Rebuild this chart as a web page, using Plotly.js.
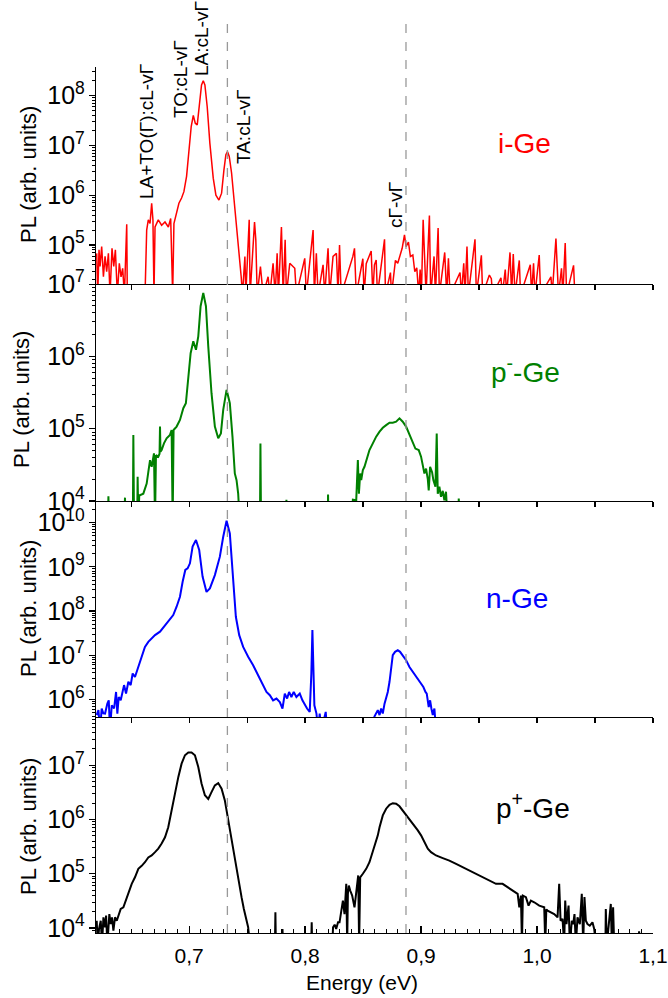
<!DOCTYPE html>
<html>
<head>
<meta charset="utf-8">
<script src="https://cdn.plot.ly/plotly-3.0.1.min.js"></script>
<style>html,body{margin:0;padding:0;background:#fff;}#chart{width:668px;height:998px;}</style>
</head>
<body>
<div id="chart"></div>
<script>
// ---------- data (energy in eV, PL in arb. units) ----------
const energyI = [0.6203,0.6212,0.6223,0.6232,0.6246,0.6261,0.6275,0.6289,0.6304,0.6318,0.6335,0.6350,0.6364,0.6381,0.6398,0.6413,0.6427,0.6442,0.6462,0.6467,0.6620,0.6634,0.6648,0.6663,0.6677,0.6688,0.6697,0.6706,0.6734,0.6763,0.6792,0.6821,0.6841,0.6858,0.6869,0.6892,0.6912,0.6935,0.6955,0.6978,0.6998,0.7018,0.7036,0.7053,0.7070,0.7093,0.7107,0.7122,0.7136,0.7156,0.7179,0.7208,0.7231,0.7257,0.7280,0.7300,0.7317,0.7331,0.7346,0.7366,0.7386,0.7409,0.7432,0.7449,0.7460,0.7481,0.7489,0.7518,0.7526,0.7564,0.7575,0.7587,0.7615,0.7638,0.7681,0.7696,0.7724,0.7742,0.7759,0.7770,0.7796,0.7811,0.7828,0.7839,0.7868,0.7911,0.7925,0.7997,0.8011,0.8069,0.8080,0.8097,0.8112,0.8155,0.8169,0.8198,0.8212,0.8241,0.8270,0.8284,0.8297,0.8311,0.8412,0.8426,0.8441,0.8498,0.8509,0.8527,0.8570,0.8584,0.8598,0.8613,0.8624,0.8685,0.8693,0.8736,0.8745,0.8779,0.8799,0.8814,0.8837,0.8857,0.8871,0.8891,0.8908,0.8929,0.8946,0.8963,0.8980,0.8992,0.9003,0.9018,0.9029,0.9043,0.9072,0.9083,0.9112,0.9124,0.9147,0.9158,0.9204,0.9221,0.9236,0.9250,0.9336,0.9348,0.9368,0.9379,0.9396,0.9408,0.9465,0.9477,0.9520,0.9531,0.9589,0.9606,0.9617,0.9689,0.9701,0.9726,0.9738,0.9767,0.9781,0.9795,0.9810,0.9847,0.9858,0.9942,0.9953,0.9970,0.9982,1.0019,1.0031,1.0120,1.0131,1.0163,1.0174,1.0185,1.0211,1.0223,1.0243,1.0255,1.0315,1.0326];
const plI = [6.8e4,1e4,8.0e4,3.7e4,9.3e4,2.3e4,5.9e4,2.9e4,6.8e4,1e4,8.6e4,3.7e4,8.0e4,1e4,4.3e4,2.3e4,3.4e4,1e4,2.6e5,1e4,1e4,2.0e5,3.2e5,2.7e5,6.9e5,3.2e5,1e4,2.3e5,3.2e5,2.5e5,2.9e5,2.3e5,3.4e5,1e4,2.7e5,4.3e5,6.9e5,8.8e5,1.18e6,2.4e6,7.0e6,2.4e7,4.0e7,2.8e7,2.6e7,8.2e7,1.64e8,2.0e8,1.64e8,6.0e7,1.1e7,2.2e6,1.0e6,8.0e5,1.1e6,3.2e6,6.5e6,7.5e6,6.0e6,2.8e6,9.4e5,2.3e5,5.9e4,2.3e4,1e4,5.9e4,1e4,3.2e5,1e4,2.9e5,1.27e5,1e4,3.7e4,1e4,2.3e4,1e4,4.3e4,1e4,6.8e4,1e4,2.3e5,1e4,1.27e5,1e4,4.3e4,3.4e4,1e4,5.4e4,1e4,2.0e5,1e4,6.8e4,1e4,4.0e4,1e4,8.6e4,1e4,5.9e4,6.8e4,1e4,1.0e5,1e4,5.9e4,8.6e4,1e4,5.3e4,1e4,4.2e4,7.6e4,1e4,4.0e4,5.0e4,1e4,1.3e5,1e4,2.8e4,1e4,4.9e4,4.3e4,5.9e4,8.6e4,1.6e5,9.3e4,1.15e5,5.9e4,6.3e4,2.9e4,3.5e4,1e4,3.2e4,1e4,3.2e5,5.4e4,1e4,3.9e5,1e4,5.9e4,1e4,2.2e5,1e4,7.1e4,1e4,5.4e4,1e4,2.8e4,1e4,4.3e4,1e4,9.3e4,1e4,1.3e5,1e4,6.2e4,1e4,2.5e4,2.1e4,1e4,2.2e4,1e4,3.2e4,1e4,7.1e4,1e4,6.6e4,1e4,4.9e4,1e4,4.0e4,1e4,4.3e4,1e4,6.3e4,1e4,2.3e4,1e4,1.35e5,3.7e4,1e4,3.4e4,1e4,1.1e5,1e4,3.9e4,1e4];

const energyPm = [0.6203,0.6300,0.6304,0.6310,0.6440,0.6447,0.6452,0.6515,0.6519,0.6525,0.6552,0.6556,0.6562,0.6570,0.6576,0.6605,0.6634,0.6648,0.6663,0.6677,0.6697,0.6706,0.6714,0.6734,0.6745,0.6749,0.6753,0.6763,0.6783,0.6806,0.6835,0.6849,0.6858,0.6866,0.6892,0.6921,0.6950,0.6972,0.6993,0.7013,0.7036,0.7059,0.7079,0.7099,0.7122,0.7145,0.7165,0.7193,0.7222,0.7251,0.7274,0.7294,0.7323,0.7351,0.7374,0.7394,0.7409,0.7423,0.7437,0.7611,0.7615,0.7620,0.7835,0.7839,0.7843,0.8195,0.8198,0.8202,0.8400,0.8412,0.8441,0.8455,0.8464,0.8475,0.8484,0.8498,0.8512,0.8527,0.8555,0.8584,0.8613,0.8642,0.8670,0.8699,0.8728,0.8756,0.8785,0.8814,0.8842,0.8871,0.8900,0.8929,0.8951,0.8980,0.9000,0.9015,0.9029,0.9043,0.9058,0.9066,0.9078,0.9095,0.9106,0.9124,0.9135,0.9144,0.9158,0.9172,0.9187,0.9201,0.9215,0.9230,0.9320,0.9325,0.9336];
const plPm = [5e3,5e3,1.16e4,5e3,5e3,1.11e4,5e3,5e3,8.2e4,5e3,5e3,2.16e4,5e3,1.2e4,1.2e4,1.26e4,1.74e4,2.5e4,3.67e4,2.97e4,4.55e4,5e3,4.3e4,4.1e4,4.5e4,1.07e5,4.8e4,5.06e4,6.26e4,7.35e4,8.2e4,9.6e4,5e3,9.6e4,1.07e5,1.32e5,1.92e5,2.25e5,4.75e5,1.11e6,1.62e6,1.24e6,1.9e6,4.96e6,7.6e6,4.96e6,1.38e6,3.1e5,1.07e5,7.35e4,8.6e4,1.82e5,3.45e5,2.25e5,7.7e4,2.4e4,1.94e4,1.26e4,5e3,5e3,6.26e4,5e3,5e3,1.04e4,5e3,5e3,1.23e4,5e3,5e3,1.04e4,1.02e4,3.67e4,1.26e4,2.4e4,1.94e4,2.67e4,2.97e4,3.67e4,5.06e4,6.26e4,7.76e4,9.1e4,1.03e5,1.12e5,1.21e5,1.21e5,1.25e5,1.39e5,1.25e5,1.07e5,8.2e4,6.26e4,5.3e4,5.06e4,4.1e4,3.1e4,2.4e4,2.8e4,2.0e4,1.4e4,2.97e4,2.5e4,1.94e4,1.57e4,8.6e4,1.26e4,1.57e4,1.14e4,1.38e4,1.02e4,1.34e4,5e3,5e3,1.08e4,5e3];

const energyN = [0.6203,0.6218,0.6232,0.6246,0.6260,0.6275,0.6295,0.6307,0.6318,0.6333,0.6353,0.6370,0.6381,0.6393,0.6410,0.6427,0.6439,0.6456,0.6476,0.6496,0.6513,0.6533,0.6562,0.6591,0.6619,0.6648,0.6677,0.6706,0.6749,0.6792,0.6835,0.6863,0.6892,0.6921,0.6944,0.6967,0.6987,0.7007,0.7030,0.7059,0.7087,0.7116,0.7150,0.7179,0.7222,0.7265,0.7294,0.7323,0.7351,0.7380,0.7403,0.7432,0.7466,0.7509,0.7552,0.7595,0.7638,0.7667,0.7696,0.7724,0.7753,0.7782,0.7805,0.7825,0.7845,0.7862,0.7882,0.7902,0.7925,0.7954,0.7977,0.7997,0.8017,0.8040,0.8054,0.8063,0.8072,0.8080,0.8098,0.8112,0.8126,0.8141,0.8178,0.8189,0.8590,0.8598,0.8627,0.8642,0.8656,0.8670,0.8685,0.8699,0.8713,0.8728,0.8742,0.8756,0.8776,0.8799,0.8819,0.8842,0.8871,0.8900,0.8929,0.8957,0.8980,0.9000,0.9020,0.9038,0.9049,0.9066,0.9078,0.9089,0.9101,0.9115,0.9129];
const plN = [4.4e5,5.7e5,2e5,6.2e5,4.8e5,4.76e5,8.0e5,9.5e5,2e5,7.35e5,6.2e5,1.47e6,4.76e5,1.13e6,9.5e5,1.6e6,2.1e6,1.35e6,2.5e6,2.1e6,3.84e6,3.2e6,5.4e6,9.2e6,1.54e7,2.0e7,2.4e7,2.84e7,3.4e7,4.8e7,6.8e7,8.1e7,1.25e8,2.1e8,4.6e8,8.5e8,9.2e8,1.2e9,2.87e9,4.06e9,2.4e9,6.0e8,2.7e8,3.25e8,6.5e8,1.7e9,4.8e9,1.1e10,5.7e9,4.2e8,7.4e7,2.84e7,1.54e7,9.2e6,5.9e6,3.5e6,2.1e6,1.47e6,1.24e6,9.5e5,1.04e6,8.7e5,6.2e5,1.35e6,1.04e6,1.47e6,1.13e6,1.47e6,1.13e6,1.35e6,9.5e5,7.35e5,6.2e5,5.2e5,3.84e6,3.7e7,3.5e6,7.35e5,4.76e5,2e5,4.76e5,2e5,5.2e5,2e5,2e5,4.1e5,5.7e5,4.4e5,6.2e5,4.76e5,8.0e5,1.04e6,1.47e6,2.5e6,5.4e6,1.0e7,1.19e7,1.3e7,1.19e7,1.0e7,7.7e6,5.4e6,4.2e6,3.2e6,2.7e6,2.28e6,1.9e6,1.47e6,1.35e6,6.7e5,9.5e5,6.2e5,4.4e5,6.2e5,2e5];

const energyPp = [0.6203,0.6212,0.6223,0.6238,0.6249,0.6261,0.6275,0.6284,0.6295,0.6312,0.6324,0.6335,0.6347,0.6361,0.6376,0.6393,0.6410,0.6433,0.6456,0.6485,0.6505,0.6533,0.6562,0.6591,0.6619,0.6648,0.6677,0.6706,0.6734,0.6763,0.6792,0.6820,0.6849,0.6878,0.6907,0.6935,0.6964,0.6993,0.7021,0.7050,0.7079,0.7107,0.7136,0.7165,0.7193,0.7222,0.7251,0.7280,0.7308,0.7337,0.7366,0.7395,0.7423,0.7452,0.7472,0.7486,0.7495,0.7509,0.7524,0.7740,0.7744,0.7748,0.7800,0.7805,0.7810,0.8053,0.8057,0.8061,0.8235,0.8241,0.8255,0.8268,0.8284,0.8297,0.8326,0.8340,0.8355,0.8363,0.8369,0.8377,0.8389,0.8406,0.8426,0.8446,0.8458,0.8466,0.8475,0.8498,0.8527,0.8555,0.8584,0.8613,0.8627,0.8642,0.8670,0.8699,0.8728,0.8756,0.8785,0.8814,0.8842,0.8871,0.8900,0.8943,0.8972,0.9000,0.9029,0.9058,0.9086,0.9129,0.9187,0.9244,0.9302,0.9359,0.9416,0.9474,0.9531,0.9589,0.9646,0.9703,0.9746,0.9790,0.9833,0.9847,0.9861,0.9870,0.9878,0.9904,0.9927,0.9947,0.9976,1.0019,1.0062,1.0071,1.0080,1.0091,1.0120,1.0148,1.0177,1.0191,1.0203,1.0220,1.0234,1.0243,1.0254,1.0272,1.0283,1.0300,1.0312,1.0323,1.0335,1.0349,1.0369,1.0386,1.0398,1.0409,1.0421,1.0435,1.0455,1.0478,1.0493,1.0507,1.0590,1.0593,1.0602,1.0636,1.0645,1.0656,1.0665,1.0876,1.0880,1.0889];
const plPp = [1.36e4,5e3,9.6e3,1.36e4,5e3,1.57e4,1.03e4,1.69e4,5e3,1.8e4,1.18e4,1.57e4,8.9e3,1.57e4,1.36e4,1.8e4,2.24e4,2.4e4,3.4e4,4.9e4,6.5e4,8.6e4,1.23e5,1.4e5,1.63e5,2.0e5,2.17e5,2.5e5,2.9e5,3.6e5,4.7e5,7.2e5,1.37e6,3.0e6,6.1e6,1.07e7,1.53e7,1.72e7,1.72e7,1.53e7,9.3e6,4.6e6,2.8e6,2.4e6,3.2e6,4.27e6,4.7e6,3.7e6,2.25e6,9.6e5,4.1e5,1.75e5,7.5e4,3.7e4,2.24e4,1.69e4,1.36e4,1.03e4,5e3,5e3,1.95e4,5e3,5e3,9.6e3,5e3,5e3,1.27e4,5e3,5e3,1.03e4,1.15e4,9.6e3,1.27e4,1.27e4,3.2e4,1.8e4,6.5e4,5e3,4.25e4,6.05e4,4.9e4,3.95e4,2.4e4,5.6e4,9.3e4,5e3,8.6e4,1.0e5,1.23e5,1.63e5,2.5e5,3.8e5,5.1e5,7.2e5,1.19e6,1.58e6,1.87e6,2.0e6,1.95e6,1.75e6,1.47e6,1.24e6,1.03e6,7.8e5,6.3e5,5.1e5,3.8e5,2.9e5,2.5e5,2.17e5,1.94e5,1.75e5,1.52e5,1.32e5,1.15e5,1.0e5,8.6e4,7.5e4,6.5e4,6.5e4,5.6e4,4.9e4,4.25e4,2.4e4,3.95e4,5e3,3.95e4,3.7e4,2.58e4,3.2e4,2.98e4,2.58e4,2.4e4,5e3,2.2e4,2.09e4,1.95e4,1.8e4,1.57e4,6.5e4,1.36e4,1.47e4,5e3,3.2e4,1.18e4,2.58e4,5e3,1.36e4,1.18e4,1.8e4,5e3,1.57e4,1.18e4,4.25e4,5e3,3.7e4,1.36e4,1.18e4,1.1e4,1.27e4,9.6e3,5e3,5e3,2.24e4,5e3,2.77e4,5e3,2.4e4,5e3,5e3,8.7e3,5e3];

const sampleNames = ['i-Ge', 'p<sup>-</sup>-Ge', 'n-Ge', 'p<sup>+</sup>-Ge'];
const sampleColors = ['#ff0000', '#008000', '#0000ff', '#000000'];
const transitionLabels = ['LA+TO(Γ):cL-vΓ', 'TO:cL-vΓ', 'LA:cL-vΓ', 'TA:cL-vΓ', 'cΓ-vΓ'];
const dashedEnergies = [0.733, 0.887];
const yTitle = 'PL (arb. units)';
const xTitle = 'Energy (eV)';

// ---------- layout geometry ----------
const FONT = 'Liberation Sans, Arial, sans-serif';
const W = 668, H = 998, ML = 96, MR = 15, MT = 20, MB = 65;
const PW = W - ML - MR, PH = H - MT - MB;
const bottomPx = H - MB;
const px2x = p => (p - ML) / PW;
const px2y = p => (bottomPx - p) / PH;

const panelTops = [67, 284, 501, 717];
const panelBots = [284, 501, 717, bottomPx];
const yRanges = [[4.217, 8.576], [3.999, 7.003], [5.6, 10.49], [3.907, 7.89]];
const xRange = [0.6197, 1.1];

const series = [[energyI, plI], [energyPm, plPm], [energyN, plN], [energyPp, plPp]];
const widths = [1.5, 2, 2, 2];

const traces = series.map((s, i) => ({
  x: s[0], y: s[1], type: 'scatter', mode: 'lines',
  xaxis: i === 0 ? 'x' : 'x' + (i + 1),
  yaxis: i === 0 ? 'y' : 'y' + (i + 1),
  line: {color: sampleColors[i], width: widths[i]},
  showlegend: false, hoverinfo: 'skip'
}));

const layout = {
  width: W, height: H,
  margin: {l: ML, r: MR, t: MT, b: MB},
  paper_bgcolor: '#fff', plot_bgcolor: 'rgba(0,0,0,0)',
  separators: ', ',
  font: {family: FONT, color: '#000'},
  showlegend: false,
  shapes: [], annotations: []
};

for (let i = 0; i < 4; i++) {
  const xk = i === 0 ? 'xaxis' : 'xaxis' + (i + 1);
  const yk = i === 0 ? 'yaxis' : 'yaxis' + (i + 1);
  const yid = i === 0 ? 'y' : 'y' + (i + 1);
  const xid = i === 0 ? 'x' : 'x' + (i + 1);
  const dom = [px2y(panelBots[i]), px2y(panelTops[i])];
  const last = i === 3;
  layout[xk] = {
    domain: [0, 1], anchor: yid, range: xRange,
    showline: true, linecolor: '#000', linewidth: 1.2,
    showgrid: false, zeroline: false,
    ticks: last ? 'inside' : 'outside', ticklen: last ? 7 : 5, tickwidth: 1.2, tickcolor: '#000',
    tick0: 0, dtick: last ? 0.1 : 0.05,
    showticklabels: last, tickformat: '.1f',
    tickfont: {family: FONT, size: 21, color: '#000'},
    ticklabelstandoff: 4
  };
  if (last) {
    layout[xk].minor = {ticks: 'inside', dtick: 0.01, ticklen: 4, tickwidth: 1, tickcolor: '#000', showgrid: false};
  }
  layout[yk] = {
    domain: dom, anchor: xid, type: 'log', range: yRanges[i],
    showline: true, linecolor: '#000', linewidth: 1.2,
    showgrid: false, zeroline: false,
    ticks: 'outside', ticklen: 6, tickwidth: 1.2, tickcolor: '#000',
    dtick: 1, exponentformat: 'power',
    tickfont: {family: FONT, size: 20, color: '#000'},
    minor: {ticks: 'outside', dtick: 'D1', ticklen: 3, tickwidth: 1, tickcolor: '#000', showgrid: false}
  };
}

// dashed reference lines
dashedEnergies.forEach(e => layout.shapes.push({
  type: 'line', xref: 'x', yref: 'paper', x0: e, x1: e, y0: 0, y1: 1,
  line: {color: '#999999', width: 1.3, dash: 'dash'}
}));

// y titles
const yTitleCenters = [[28, 175], [22, 400], [29, 609], [28, 827]];
yTitleCenters.forEach(c => layout.annotations.push({
  text: yTitle, xref: 'paper', yref: 'paper', x: px2x(c[0]), y: px2y(c[1]),
  xanchor: 'center', yanchor: 'middle', textangle: -90, showarrow: false,
  font: {family: FONT, size: 22, color: '#000'}
}));
// x title
layout.annotations.push({
  text: xTitle, xref: 'paper', yref: 'paper', x: px2x(362), y: px2y(982),
  xanchor: 'center', yanchor: 'middle', showarrow: false,
  font: {family: FONT, size: 21, color: '#000'}
});
// sample names
const sampleCenters = [[524, 144], [525, 370], [517, 598], [533, 806]];
sampleNames.forEach((t, i) => layout.annotations.push({
  text: t, xref: 'paper', yref: 'paper', x: px2x(sampleCenters[i][0]), y: px2y(sampleCenters[i][1]),
  xanchor: 'center', yanchor: 'middle', showarrow: false,
  font: {family: FONT, size: 28, color: sampleColors[i]}
}));
// transition labels
const transCenters = [[146, 132], [180, 79], [202, 39], [244, 127], [395, 205]];
transitionLabels.forEach((t, i) => layout.annotations.push({
  text: t, xref: 'paper', yref: 'paper', x: px2x(transCenters[i][0]), y: px2y(transCenters[i][1]),
  xanchor: 'center', yanchor: 'middle', textangle: -90, showarrow: false,
  font: {family: FONT, size: 19, color: '#000'}
}));

Plotly.newPlot('chart', traces, layout, {staticPlot: true, displayModeBar: false});
</script>
</body>
</html>
